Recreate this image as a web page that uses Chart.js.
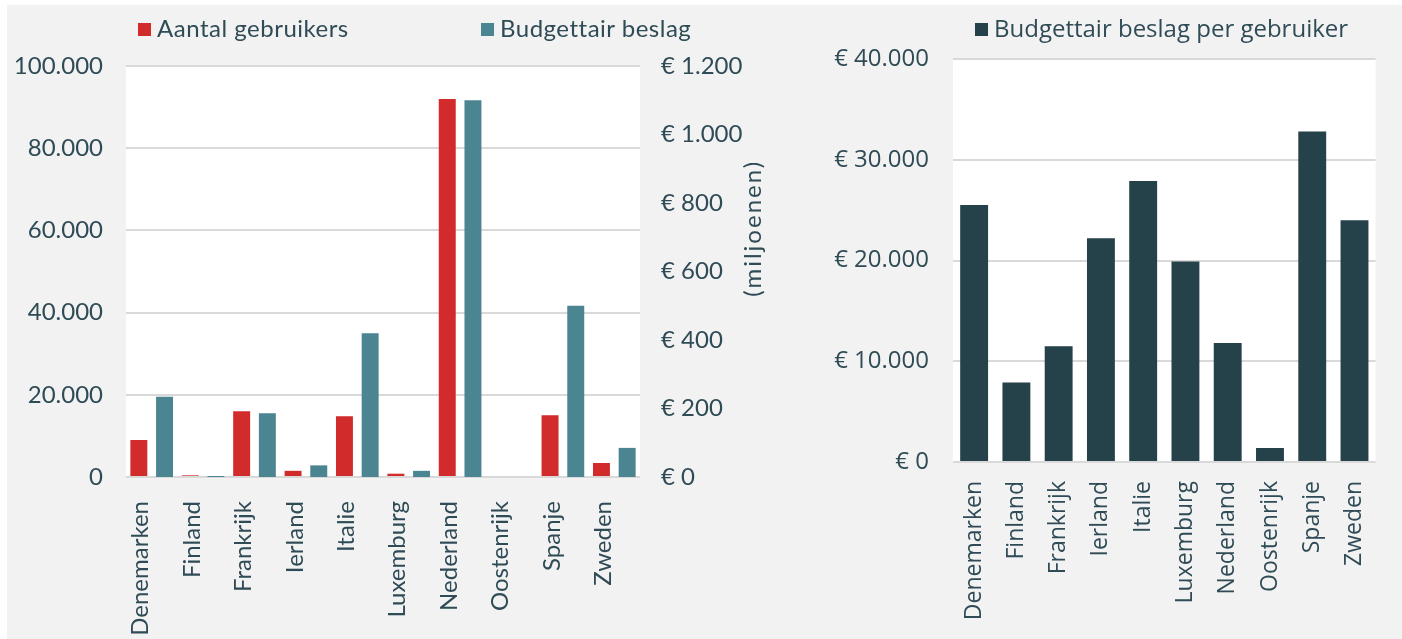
<!DOCTYPE html>
<html>
<head>
<meta charset="utf-8">
<script src="https://cdn.jsdelivr.net/npm/chart.js@4.4.1/dist/chart.umd.min.js"></script>
<style>
  body { margin: 0; background: #ffffff; width: 1402px; height: 639px; overflow: hidden; position: relative; }
  .panel { position: absolute; left: 7px; top: 5px; width: 1395px; height: 634px; background: #f2f2f2; }
  .box { position: absolute; }
  .legend { position: absolute; top: 13px; font-size: 24px; color: #2f4b56; white-space: nowrap; }
  .legend span.sw { display: inline-block; width: 13px; height: 13px; margin-right: 6px; vertical-align: 1px; }
  #legendLeft1 { left: 138px; font-family: Lato, sans-serif; letter-spacing: 0.5px; }
  #legendLeft2 { left: 481px; font-family: Lato, sans-serif; letter-spacing: 0.5px; }
  #legendRight { left: 975px; font-family: "Open Sans", sans-serif; font-size: 24px; top: 11px; }
</style>
</head>
<body>
<div class="panel"></div>
<div class="box" style="left:7px;top:5px;width:805px;height:634px;"><canvas id="leftChart"></canvas></div>
<div class="box" style="left:816px;top:5px;width:586px;height:634px;"><canvas id="rightChart"></canvas></div>
<div class="legend" id="legendLeft1"><span class="sw" style="background:#d22b2b"></span>Aantal gebruikers</div>
<div class="legend" id="legendLeft2"><span class="sw" style="background:#4b8592"></span>Budgettair beslag</div>
<div class="legend" id="legendRight"><span class="sw" style="background:#254149"></span>Budgettair beslag per gebruiker</div>

<script>
// Data
const countries = ["Denemarken", "Finland", "Frankrijk", "Ierland", "Italie", "Luxemburg", "Nederland", "Oostenrijk", "Spanje", "Zweden"];
const users = [9000, 400, 16000, 1500, 14800, 800, 92000, 0, 15000, 3400];          // Aantal gebruikers
const budget = [234, 3, 186, 34, 420, 18, 1100, 0, 500, 85];                         // Budgettair beslag (miljoenen)
const perUser = [25500, 7900, 11500, 22200, 27900, 19900, 11800, 1400, 32800, 24000]; // Budgettair beslag per gebruiker

const textColor = "#2f4b56";
const gridColor = "#d9d9d9";

function nl(v) {
    return Math.round(v).toString().replace(/\B(?=(\d{3})+(?!\d))/g, ".");
}

// white plot area behind the bars
const plotBackground = {
    id: "plotBackground",
    beforeDraw(chart) {
        const a = chart.chartArea;
        chart.ctx.save();
        chart.ctx.fillStyle = "#ffffff";
        chart.ctx.fillRect(a.left, a.top, a.right - a.left, a.bottom - a.top);
        chart.ctx.restore();
    }
};

// "(miljoenen)" title, reads bottom to top
const millionsTitle = {
    id: "millionsTitle",
    afterDraw(chart) {
        const ctx = chart.ctx;
        const s = chart.scales.y1;
        const a = chart.chartArea;
        ctx.save();
        ctx.translate(s.right - 59, a.top + (a.bottom - a.top) * 0.395);
        ctx.rotate(-Math.PI / 2);
        ctx.font = "24px Lato";
        ctx.letterSpacing = "2px";
        ctx.fillStyle = textColor;
        ctx.textAlign = "center";
        ctx.textBaseline = "middle";
        ctx.fillText("(miljoenen)", 0, 0);
        ctx.restore();
    }
};

Chart.defaults.color = textColor;
Chart.defaults.animation = false;

new Chart(document.getElementById("leftChart"), {
    type: "bar",
    data: {
        labels: countries,
        datasets: [
            { label: "Aantal gebruikers", data: users, backgroundColor: "#d22b2b", yAxisID: "y" },
            { label: "Budgettair beslag", data: budget, backgroundColor: "#4b8592", yAxisID: "y1" }
        ]
    },
    options: {
        responsive: true,
        maintainAspectRatio: false,
        categoryPercentage: 1.0,
        barPercentage: 0.66,
        layout: { padding: { top: 61, left: 0, right: 0, bottom: 0 } },
        plugins: { legend: { display: false }, tooltip: { enabled: false } },
        scales: {
            x: {
                grid: { display: false, drawTicks: false },
                border: { display: false },
                ticks: { minRotation: 90, maxRotation: 90, padding: 24, labelOffset: -11, autoSkip: false, font: { family: "Lato", size: 24 } },
                afterFit(s) { s.height = 162; }
            },
            y: {
                position: "left",
                min: 0, max: 100000,
                ticks: { stepSize: 20000, padding: 23, font: { family: "Lato", size: 24 }, callback: v => nl(v) },
                grid: { color: gridColor, lineWidth: 2, drawTicks: false },
                border: { display: false },
                afterFit(s) { s.width = 119; }
            },
            y1: {
                position: "right",
                min: 0, max: 1200,
                ticks: { stepSize: 200, padding: 21, font: { family: "Lato", size: 24 }, callback: v => "€ " + nl(v) },
                grid: { display: false, drawTicks: false },
                border: { display: false },
                afterFit(s) { s.width = 172; }
            }
        }
    },
    plugins: [plotBackground, millionsTitle]
});

new Chart(document.getElementById("rightChart"), {
    type: "bar",
    data: {
        labels: countries,
        datasets: [
            { label: "Budgettair beslag per gebruiker", data: perUser, backgroundColor: "#254149" }
        ]
    },
    options: {
        responsive: true,
        maintainAspectRatio: false,
        categoryPercentage: 1.0,
        barPercentage: 0.66,
        layout: { padding: { top: 54, left: 0, right: 18, bottom: 0 } },
        plugins: { legend: { display: false }, tooltip: { enabled: false } },
        scales: {
            x: {
                grid: { display: false, drawTicks: false },
                border: { display: false },
                ticks: { minRotation: 90, maxRotation: 90, padding: 19, autoSkip: false, font: { family: "Open Sans", size: 23 } },
                afterFit(s) { s.height = 177; }
            },
            y: {
                min: 0, max: 40000,
                ticks: { stepSize: 10000, padding: 24, font: { family: "Open Sans", size: 24 }, callback: v => "€ " + nl(v) },
                grid: { color: gridColor, lineWidth: 2, drawTicks: false },
                border: { display: false },
                afterFit(s) { s.width = 137; }
            }
        }
    },
    plugins: [plotBackground]
});
</script>
</body>
</html>
